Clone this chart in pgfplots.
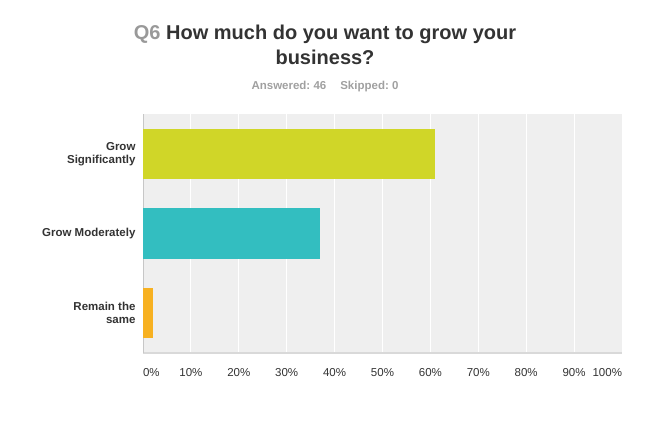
\documentclass[border=0pt]{standalone}
\usepackage{pgfplots}
\pgfplotsset{compat=1.18}
\usepackage{fontspec}
\setmainfont{Liberation Sans}
\frenchspacing
\definecolor{barG}{RGB}{208,214,40}
\definecolor{barT}{RGB}{51,190,192}
\definecolor{barO}{RGB}{247,177,33}
\definecolor{bgc}{RGB}{239,239,239}
\definecolor{titlec}{RGB}{51,51,51}
\definecolor{qc}{RGB}{153,153,153}
\definecolor{subc}{RGB}{160,160,160}
\definecolor{labc}{RGB}{51,51,51}
\definecolor{axc}{RGB}{217,217,217}
\begin{document}
\begin{tikzpicture}
\useasboundingbox (0pt,0pt) rectangle (650pt,-427pt);
\node[font=\fontsize{20}{25}\selectfont\bfseries, text=titlec, align=center] at (325pt,-44.5pt)
  {\textcolor{qc}{Q6} How much do you want to grow your\\business?};
\node[font=\fontsize{11.5}{13}\selectfont\bfseries, text=subc] at (325pt,-87pt)
  {Answered: 46\hspace{14pt}Skipped: 0};
\begin{axis}[
  at={(143pt,-353pt)}, anchor=south west,
  scale only axis, width=479pt, height=239pt,
  xbar, bar width=50pt,
  xmin=0, xmax=100, ymin=-0.5, ymax=2.5,
  xtick={0,10,...,100},
  xticklabels={\makebox[0pt][l]{0\%},10\%,20\%,30\%,40\%,50\%,60\%,70\%,80\%,90\%,\makebox[0pt][r]{100\%}},
  ytick={0,1,2},
  yticklabels={{Remain the\\same},{Grow Moderately},{Grow\\Significantly}},
  yticklabel style={align=right, font=\fontsize{11.5}{13}\selectfont\bfseries, text=labc, xshift=-4pt},
  xticklabel style={font=\fontsize{11.5}{13}\selectfont, text=labc, yshift=-12pt},
  major tick length=0pt,
  xmajorgrids, major grid style={white, line width=1pt},
  axis background/.style={fill=bgc},
  axis x line*=bottom, axis y line*=left,
  x axis line style={draw=axc, line width=2pt, -},
  y axis line style={draw=axc!80!gray, line width=1pt, -},
]
\addplot[fill=barG, draw=none, bar shift=0pt] coordinates {(60.87,2)};
\addplot[fill=barT, draw=none, bar shift=0pt] coordinates {(36.96,1)};
\addplot[fill=barO, draw=none, bar shift=0pt] coordinates {(2.17,0)};
\end{axis}
\end{tikzpicture}
\end{document}
